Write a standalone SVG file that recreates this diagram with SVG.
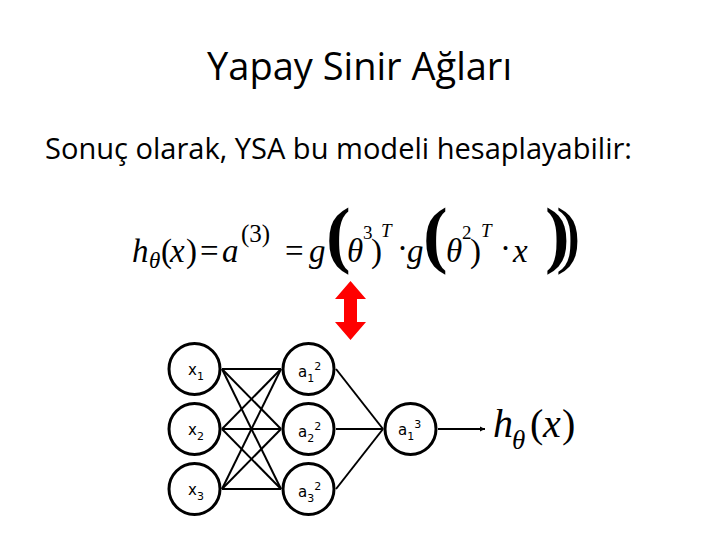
<svg xmlns="http://www.w3.org/2000/svg" width="720" height="540" viewBox="0 0 720 540">
<style>
.title{font-family:"Open Sans","Noto Sans",sans-serif;fill:#000}
.m{font-family:"Liberation Serif","Times New Roman",serif;font-size:33px;fill:#000}
.i{font-style:italic}
.sup{font-size:19px}
.big{font-size:74px;font-weight:bold}
.node circle{fill:#fff;stroke:#000;stroke-width:3}
.lbl{font-family:"DejaVu Sans",Verdana,sans-serif;font-size:15px;fill:#000}
.s{font-size:11px}
#connectors line{stroke:#000;stroke-width:2}
</style>
<defs>
<marker id="ah" markerWidth="6" markerHeight="6" refX="5" refY="3" orient="auto" markerUnits="userSpaceOnUse">
<path d="M0,0.5 L5,3 L0,5.5 Z" fill="#000"/>
</marker>
</defs>
<rect width="720" height="540" fill="#fff"/>
<text class="title" x="207" y="80" font-size="38" textLength="305" lengthAdjust="spacingAndGlyphs">Yapay Sinir Ağları</text>
<text class="title" x="45" y="159" font-size="29" textLength="587" lengthAdjust="spacingAndGlyphs">Sonuç olarak, YSA bu modeli hesaplayabilir:</text>
<g id="formula" class="m">
<text x="132" y="262" class="i">h</text>
<text x="149" y="268" class="i" font-size="23">θ</text>
<text x="161" y="262">(</text>
<text x="170" y="262" class="i">x</text>
<text x="186" y="262">)</text>
<text x="200" y="262">=</text>
<text x="222" y="262" class="i">a</text>
<text x="241" y="242" font-size="25">(3)</text>
<text x="285" y="262">=</text>
<text x="309" y="262" class="i">g</text>
<text x="326" y="259" class="big">(</text>
<text x="347" y="262" class="i">θ</text>
<text x="363" y="239" class="sup">3</text>
<text x="371" y="262">)</text>
<text x="381" y="237" class="i sup">T</text>
<text x="397" y="259">·</text>
<text x="407" y="262" class="i">g</text>
<text x="423" y="259" class="big">(</text>
<text x="446" y="262" class="i">θ</text>
<text x="462" y="239" class="sup">2</text>
<text x="470" y="262">)</text>
<text x="481" y="237" class="i sup">T</text>
<text x="500" y="259">·</text>
<text x="513" y="262" class="i">x</text>
<text x="545" y="259" class="big">)</text>
<text x="556" y="259" font-size="74">)</text>
</g>
<polygon id="red-arrow" points="350.5,281 366,299 357,299 357,322 366,322 350.5,340 335,322 344,322 344,299 335,299" fill="#f00"/>
<g id="connectors">
<line x1="222" y1="369" x2="281" y2="369"/>
<line x1="222" y1="369" x2="281" y2="429"/>
<line x1="222" y1="369" x2="281" y2="489"/>
<line x1="222" y1="429" x2="281" y2="369"/>
<line x1="222" y1="429" x2="281" y2="429"/>
<line x1="222" y1="429" x2="281" y2="489"/>
<line x1="222" y1="489" x2="281" y2="369"/>
<line x1="222" y1="489" x2="281" y2="429"/>
<line x1="222" y1="489" x2="281" y2="489"/>
<line x1="336" y1="369" x2="383" y2="429"/>
<line x1="336" y1="429" x2="383" y2="429"/>
<line x1="336" y1="489" x2="383" y2="429"/>
<line x1="438" y1="429" x2="485" y2="429" stroke-width="1.5" marker-end="url(#ah)"/>
</g>
<g id="x1" class="node"><circle cx="194.5" cy="369" r="25.5"/><text class="lbl" x="188" y="375">x<tspan class="s" dy="5">1</tspan></text></g>
<g id="x2" class="node"><circle cx="194.5" cy="429" r="25.5"/><text class="lbl" x="188" y="435">x<tspan class="s" dy="5">2</tspan></text></g>
<g id="x3" class="node"><circle cx="194.5" cy="489" r="25.5"/><text class="lbl" x="188" y="495">x<tspan class="s" dy="5">3</tspan></text></g>
<g id="a12" class="node"><circle cx="308.5" cy="369" r="25.5"/><text class="lbl" x="298" y="377">a<tspan class="s" dy="5">1</tspan><tspan class="s" dy="-12">2</tspan></text></g>
<g id="a22" class="node"><circle cx="308.5" cy="429" r="25.5"/><text class="lbl" x="298" y="437">a<tspan class="s" dy="5">2</tspan><tspan class="s" dy="-12">2</tspan></text></g>
<g id="a32" class="node"><circle cx="308.5" cy="489" r="25.5"/><text class="lbl" x="298" y="497">a<tspan class="s" dy="5">3</tspan><tspan class="s" dy="-12">2</tspan></text></g>
<g id="a13" class="node"><circle cx="410.5" cy="429" r="25.5"/><text class="lbl" x="398" y="435" font-size="13">a<tspan class="s" dy="5" font-size="10">1</tspan><tspan class="s" dy="-12" font-size="10">3</tspan></text></g>
<g id="output" class="m">
<text x="493" y="437" class="i" font-size="40">h</text>
<text x="512" y="449" class="i" font-size="27">θ</text>
<text x="530" y="437" font-size="40">(</text>
<text x="543" y="437" class="i" font-size="40">x</text>
<text x="562" y="437" font-size="40">)</text>
</g>
</svg>
